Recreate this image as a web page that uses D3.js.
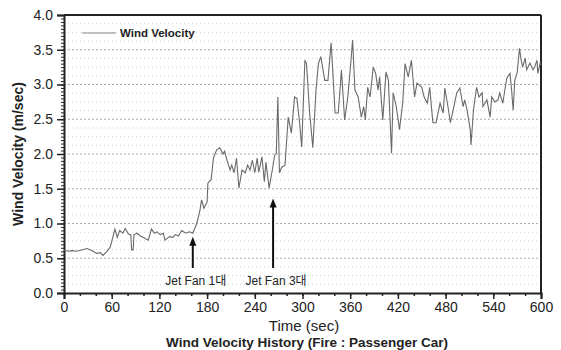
<!DOCTYPE html>
<html>
<head>
<meta charset="utf-8">
<script src="https://cdn.jsdelivr.net/npm/d3@7"></script>
<style>
  body { margin: 0; background: #fff; }
  text { font-family: "Liberation Sans", Arial, "Noto Sans CJK KR", sans-serif; fill: #222; }
</style>
</head>
<body>
<div id="chart"></div>
<script>
const times = [0,5,10,16,22,29,35,41,46,49,54,58,60,64,67,70,74,77,81,84,85,87,88,92,96,100,106,110,114,117,121,125,127,130,133,137,140,144,148,153,158,162,167,171,173,176,180,181,185,188,192,196,200,202,205,209,211,214,217,220,224,228,231,234,237,240,243,245,249,252,254,258,262,265,267,269,271,274,278,282,286,290,293,296,299,303,305,309,313,317,320,323,328,332,336,338,341,345,349,353,357,361,363,366,370,374,377,379,382,385,389,392,395,397,401,405,408,412,414,418,422,426,429,433,437,441,444,450,453,457,460,464,468,473,477,479,483,486,490,494,498,502,504,507,511,512,515,519,522,526,527,532,536,538,542,546,548,552,555,557,561,563,565,567,570,573,575,577,580,582,586,590,592,595,596,599,600];
const velocity = [0.62,0.6,0.61,0.6,0.62,0.64,0.61,0.57,0.58,0.54,0.6,0.66,0.74,0.92,0.8,0.9,0.86,0.93,0.85,0.84,0.62,0.62,0.84,0.86,0.82,0.8,0.76,0.92,0.86,0.88,0.84,0.86,0.76,0.79,0.81,0.8,0.84,0.82,0.9,0.86,0.88,0.86,1.0,1.19,1.34,1.22,1.31,1.58,1.63,1.94,2.06,2.09,2.0,2.04,1.91,1.77,1.84,1.73,1.94,1.51,1.77,1.73,1.84,1.77,1.91,1.73,1.94,1.74,1.96,1.6,1.88,1.51,1.77,1.98,2.01,2.82,1.73,1.81,1.84,2.53,2.3,2.82,2.8,2.49,2.1,3.35,3.3,2.59,2.09,2.92,3.3,3.4,3.06,3.06,3.6,3.21,2.59,2.59,3.21,2.49,2.82,3.35,3.64,2.92,2.82,2.53,2.68,2.49,2.96,2.82,3.25,3.16,2.92,3.11,2.49,3.18,3.06,2.01,2.88,2.68,2.35,2.73,3.3,3.11,3.35,2.82,3.02,2.96,2.82,2.73,2.96,2.45,2.45,2.73,2.59,2.95,2.68,2.45,2.66,2.88,2.95,2.68,2.78,2.63,2.35,2.13,2.63,2.96,2.82,2.88,2.68,2.78,2.53,2.82,2.75,2.78,2.88,2.73,2.96,3.09,3.16,2.92,2.63,3.06,3.17,3.52,3.35,3.25,3.38,3.21,3.31,3.21,3.25,3.35,3.16,3.31,3.28];

const xTicks = [0,60,120,180,240,300,360,420,480,540,600];
const yTicks = [0,0.5,1,1.5,2,2.5,3,3.5,4];

// jet fan annotations
const fanLabels = ["Jet Fan 1대", "Jet Fan 3대"];
const fanTimes = [162, 263];
const fanArrowTop = [0.81, 1.36];
const fanArrowBottom = 0.36;

const width = 561, height = 350;
const margin = { top: 15, right: 20, bottom: 57, left: 64 };
const plotW = width - margin.left - margin.right;
const plotH = height - margin.top - margin.bottom;

const svg = d3.select("#chart").append("svg")
  .attr("width", width)
  .attr("height", height);

const g = svg.append("g").attr("transform", `translate(${margin.left},${margin.top})`);

const x = d3.scaleLinear().domain([0, 600]).range([0, plotW]);
const y = d3.scaleLinear().domain([0, 4]).range([plotH, 0]);

// dotted grid
g.append("g")
  .selectAll("line")
  .data(d3.range(0.125, 4, 0.125))
  .enter().append("line")
  .attr("x1", 0).attr("x2", plotW)
  .attr("y1", d => y(d)).attr("y2", d => y(d))
  .attr("stroke", d => (d % 0.5 === 0) ? "#aaa" : "#cfcfcf")
  .attr("stroke-width", 1)
  .attr("stroke-dasharray", d => (d % 0.5 === 0) ? "2,2" : "1,3");

// minor ticks
g.append("g")
  .attr("transform", `translate(0,${plotH})`)
  .call(d3.axisBottom(x).tickValues(d3.range(0, 601, 20)).tickSize(3).tickFormat(""))
  .call(a => a.select(".domain").remove())
  .selectAll("line").attr("stroke", "#222").attr("stroke-width", 1.5);

g.append("g")
  .call(d3.axisLeft(y).tickValues(d3.range(0, 4.001, 0.05)).tickSize(3).tickFormat(""))
  .call(a => a.select(".domain").remove())
  .selectAll("line").attr("stroke", "#222").attr("stroke-width", 1);

// major axes
const xAxis = g.append("g")
  .attr("transform", `translate(0,${plotH})`)
  .call(d3.axisBottom(x).tickValues(xTicks).tickSize(6).tickPadding(3).tickFormat(d3.format("d")));
xAxis.select(".domain").attr("stroke", "#222").attr("stroke-width", 2);
xAxis.selectAll("line").attr("stroke", "#222").attr("stroke-width", 1.5);
xAxis.selectAll("text").style("font-size", "14px").attr("fill", "#222");

const yAxis = g.append("g")
  .call(d3.axisLeft(y).tickValues(yTicks).tickSize(7).tickPadding(4).tickFormat(d3.format(".1f")));
yAxis.select(".domain").attr("stroke", "#222").attr("stroke-width", 2);
yAxis.selectAll("line").attr("stroke", "#222").attr("stroke-width", 1.5);
yAxis.selectAll("text").style("font-size", "14px").attr("fill", "#222");

// frame top & right
g.append("line").attr("x1", 0).attr("x2", plotW).attr("y1", 0).attr("y2", 0)
  .attr("stroke", "#222").attr("stroke-width", 2);
g.append("line").attr("x1", plotW).attr("x2", plotW).attr("y1", 0).attr("y2", plotH)
  .attr("stroke", "#222").attr("stroke-width", 2);

// data line
const pts = times.map((t, i) => [t, velocity[i]]);
g.append("path")
  .datum(pts)
  .attr("fill", "none")
  .attr("stroke", "#6a6a6a")
  .attr("stroke-width", 1.1)
  .attr("d", d3.line().x(d => x(d[0])).y(d => y(d[1])));

// legend
g.append("line").attr("x1", 18).attr("x2", 52).attr("y1", 18).attr("y2", 18)
  .attr("stroke", "#888").attr("stroke-width", 1.2);
g.append("text").attr("x", 56).attr("y", 22)
  .style("font-size", "11.5px").style("font-weight", "bold").text("Wind Velocity");

// arrows + labels
fanTimes.forEach((t, i) => {
  const ax = x(t), top = y(fanArrowTop[i]);
  g.append("line")
    .attr("x1", ax).attr("x2", ax)
    .attr("y1", y(fanArrowBottom)).attr("y2", top + 6)
    .attr("stroke", "#111").attr("stroke-width", 2);
  g.append("path")
    .attr("d", `M${ax},${top} L${ax - 3.5},${top + 9} L${ax + 3.5},${top + 9} Z`)
    .attr("fill", "#111");
  g.append("text")
    .attr("x", ax + 3).attr("y", plotH - 8)
    .attr("text-anchor", "middle")
    .style("font-size", "12px")
    .text(fanLabels[i]);
});

// titles
svg.append("text")
  .attr("transform", `translate(23,${margin.top + plotH / 2}) rotate(-90)`)
  .attr("text-anchor", "middle")
  .style("font-size", "14px").style("font-weight", "bold")
  .text("Wind Velocity (m/sec)");

svg.append("text")
  .attr("x", 304).attr("y", 331)
  .attr("text-anchor", "middle")
  .style("font-size", "15px")
  .text("Time (sec)");

svg.append("text")
  .attr("x", 307).attr("y", 347)
  .attr("text-anchor", "middle")
  .style("font-size", "13.5px").style("font-weight", "bold")
  .text("Wind Velocity History (Fire : Passenger Car)");
</script>
</body>
</html>
